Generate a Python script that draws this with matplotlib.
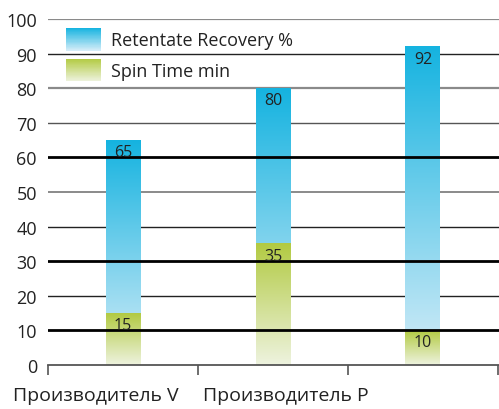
import numpy as np
import matplotlib.pyplot as plt
from matplotlib.colors import to_rgb, LinearSegmentedColormap
from matplotlib.patches import Rectangle
from matplotlib.legend_handler import HandlerBase

plt.rcParams['font.family'] = ['Open Sans', 'DejaVu Sans']

# data
categories = ['Производитель V', 'Производитель P', '']
recovery = [65, 80, 92]      # Retentate Recovery %
spin_time = [15, 35, 10]     # Spin Time min

blue_top, blue_bot = '#15b3e0', '#d6edf8'
green_top, green_bot = '#b2ca42', '#eef3df'


def gradient_bars(ax, bars, top, bottom):
    cmap = LinearSegmentedColormap.from_list('g', [bottom, top])
    grad = np.linspace(0, 1, 256).reshape(-1, 1)
    for b in bars:
        x, y = b.get_x(), b.get_y()
        w, h = b.get_width(), b.get_height()
        b.set_visible(False)
        ax.imshow(grad, cmap=cmap, origin='lower', aspect='auto',
                  extent=[x, x + w, y, y + h], zorder=b.get_zorder())


class GradientHandler(HandlerBase):
    def __init__(self, top, bottom):
        super().__init__()
        self.top = np.array(to_rgb(top))
        self.bottom = np.array(to_rgb(bottom))

    def create_artists(self, legend, orig_handle, xdescent, ydescent,
                       width, height, fontsize, trans):
        n = 40
        out = []
        for k in range(n):
            f = (k + 0.5) / n
            c = self.bottom * (1 - f) + self.top * f
            out.append(Rectangle((-xdescent, -ydescent + height * k / n),
                                 width, height / n * 1.05, facecolor=c,
                                 edgecolor='none', transform=trans))
        return out


fig = plt.figure(figsize=(4.99, 4.10), dpi=100)
ax = fig.add_axes([48 / 499, 44 / 410, 1 - 48 / 499, 346 / 410])

x = np.arange(len(categories))
w = 0.233
b1 = ax.bar(x, recovery, width=w, zorder=2, label='Retentate Recovery %')
b2 = ax.bar(x, spin_time, width=w, zorder=3, label='Spin Time min')
gradient_bars(ax, b1, blue_top, blue_bot)
gradient_bars(ax, b2, green_top, green_bot)

for bars, vals in [(b1, recovery), (b2, spin_time)]:
    for b, v in zip(bars, vals):
        ax.annotate(str(v), (b.get_x() + b.get_width() / 2, v),
                    xytext=(0, -12), textcoords='offset pixels',
                    ha='center', va='center', fontsize=11.5,
                    color='#222222', zorder=6)

# gridlines: some thin behind the bars, some heavy black on top
grid_styles = {100: ('#8a8a8a', 1.6), 90: ('#222222', 1.0), 80: ('#8a8a8a', 1.6),
               70: ('#555555', 1.0), 50: ('#8a8a8a', 1.4), 40: ('#222222', 1.0),
               20: ('#222222', 1.0)}
for yv, (c, lw) in grid_styles.items():
    ax.axhline(yv, color=c, lw=lw, zorder=1)
for yv in [10, 30, 60]:
    ax.axhline(yv, color='black', lw=2.0, zorder=5)

ax.set_ylim(0, 100)
ax.set_xlim(-0.5, 2.507)
ax.set_yticks(range(0, 101, 10))
ax.tick_params(axis='y', length=0, pad=8, labelsize=13, labelcolor='#222222')

# category labels (offset as in the original) and boundary ticks
ax.set_xticks([-0.183, 1.083, 2.1])
ax.set_xticklabels(categories)
ax.set_xticks([-0.5, 0.5, 1.5, 2.5], minor=True)
ax.tick_params(axis='x', which='major', length=0, pad=15, labelsize=14,
               labelcolor='#222222')
ax.tick_params(axis='x', which='minor', length=7, width=1.2, color='#555555')

for s in ['left', 'right', 'top']:
    ax.spines[s].set_visible(False)
ax.spines['bottom'].set_color('#555555')
ax.spines['bottom'].set_linewidth(1.3)
ax.spines['bottom'].set_zorder(4)

ax.legend([b1, b2], ['Retentate Recovery %', 'Spin Time min'],
          handler_map={b1: GradientHandler(blue_top, blue_bot),
                       b2: GradientHandler(green_top, green_bot)},
          loc='upper left', bbox_to_anchor=(0.0245, 0.995), frameon=False,
          fontsize=13, handlelength=1.92, handleheight=1.55,
          handletextpad=0.55, labelspacing=0.45, borderaxespad=0,
          labelcolor='#222222')

fig.savefig('out.png', dpi=100)
